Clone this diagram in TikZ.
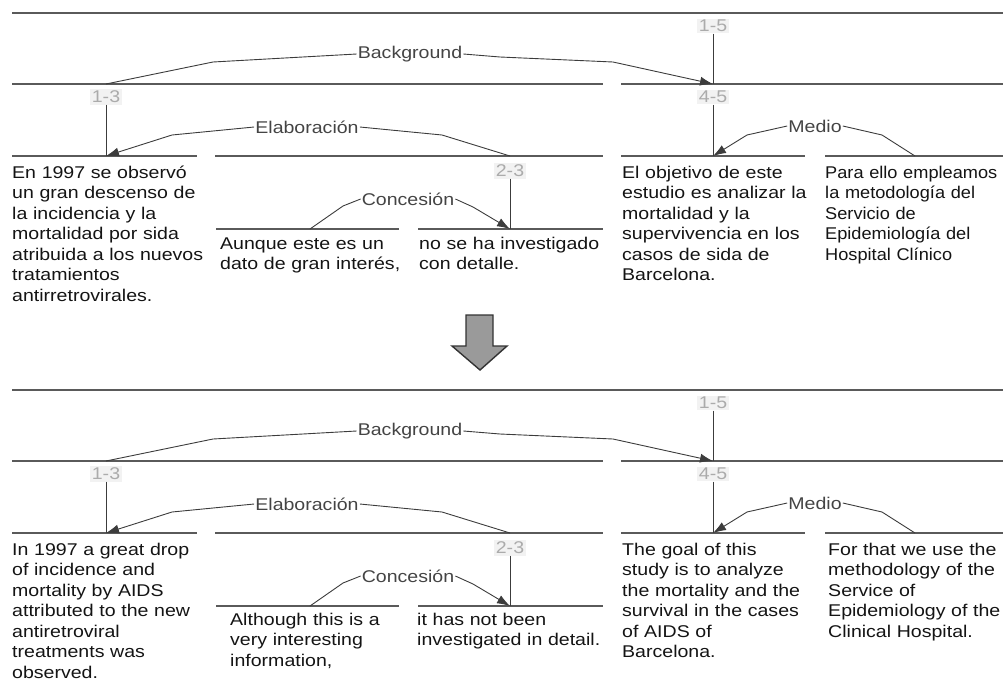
\documentclass[tikz,border=0pt]{standalone}
\usepackage{fontspec}
\setmainfont{Liberation Sans}[FakeStretch=1.15]
\newfontfamily\narrowfont{Liberation Sans}[FakeStretch=1.07]
\usepackage{tikz}
\usetikzlibrary{arrows.meta}

\definecolor{segcol}{HTML}{5A5A5A}
\definecolor{linecol}{HTML}{3C3C3C}
\definecolor{relcol}{HTML}{444444}
\definecolor{spancol}{HTML}{ABABAB}
\definecolor{spanbg}{HTML}{F2F2F2}
\definecolor{textcol}{HTML}{141414}
\definecolor{arrowfill}{HTML}{9A9A9A}

\tikzset{
  seg/.style={draw=segcol, line width=1.5pt},
  rel/.style={draw=linecol, line width=0.9pt},
  relarrow/.style={rel, -{Latex[length=13pt,width=9pt]}},
  reltext/.style={text=relcol, inner sep=1pt, font=\fontsize{17}{18}\selectfont},
  spantext/.style={text=spancol, fill=spanbg, inner sep=1.5pt, font=\fontsize{17}{18}\selectfont},
  edu/.style={anchor=base west, inner sep=0pt, text width=215pt, align=left,
    text=textcol, font=\fontsize{17}{20.5}\selectfont},
  bigarrow/.style={draw=black!80, fill=arrowfill, line width=1.4pt, line join=miter},
}

\begin{document}
\begin{tikzpicture}[x=1pt,y=-1pt]
  \useasboundingbox (0,0) rectangle (1003,680);

  % the same RST tree, once for the Spanish text and once for the English one
  \foreach \dy in {0,377} {
  \begin{scope}[yshift=-\dy pt]
    % Coordinates where spans meet the segment lines
    \coordinate (A15) at (713,84);  % 1-5 on level 2
    \coordinate (B13) at (106,84);  % top of 1-3
    \coordinate (A13) at (106,156); % 1-3 on level 3
    \coordinate (B23) at (510,156); % top of 2-3
    \coordinate (A45) at (713,156); % 4-5 on level 3
    \coordinate (B5)  at (915,156); % top of segment 5
    \coordinate (B2)  at (310,229); % top of segment 2
    \coordinate (A23) at (510,229); % 2-3 on level 4
    % bends of the relation lines
    \coordinate (BgL)  at (213,62);
    \coordinate (BgR1) at (500,57);
    \coordinate (BgR2) at (613,62);
    \coordinate (ElL)  at (172,135);
    \coordinate (ElR)  at (442,135);
    \coordinate (CoL)  at (343,206);
    \coordinate (CoR)  at (473,207);
    \coordinate (MeL)  at (747,135);
    \coordinate (MeR)  at (882,135);

    % segment lines
    \draw[seg] (12,13) -- (1003,13);
    \draw[seg] (12,84) -- (603,84);
    \draw[seg] (621,84) -- (1003,84);
    \draw[seg] (12,156) -- (197,156);
    \draw[seg] (215,156) -- (603,156);
    \draw[seg] (621,156) -- (805,156);
    \draw[seg] (825,156) -- (1003,156);
    \draw[seg] (216,229) -- (399,229);
    \draw[seg] (418,229) -- (603,229);

    % span labels
    \node[spantext] (s15) at (713,26) {1-5};
    \node[spantext] (s13) at (106,97) {1-3};
    \node[spantext] (s45) at (713,97) {4-5};
    \node[spantext] (s23) at (510,171) {2-3};
    \draw[rel] (s15) -- (A15);
    \draw[rel] (s13) -- (A13);
    \draw[rel] (s45) -- (A45);
    \draw[rel] (s23) -- (A23);

    % relations
    \node[reltext] (bg)    at (410,54)  {Background};
    \node[reltext] (elab)  at (307,127) {Elaboración};
    \node[reltext] (conc)  at (408,199) {Concesión};
    \node[reltext] (medio) at (815,126) {Medio};
    \draw[rel] (B13) -- (BgL) -- (bg.west);
    \draw[relarrow] (bg.east) -- (BgR1) -- (BgR2) -- (A15);
    \draw[rel] (B23) -- (ElR) -- (elab.east);
    \draw[relarrow] (elab.west) -- (ElL) -- (A13);
    \draw[rel] (B2) -- (CoL) -- (conc.west);
    \draw[relarrow] (conc.east) -- (CoR) -- (A23);
    \draw[rel] (B5) -- (MeR) -- (medio.east);
    \draw[relarrow] (medio.west) -- (MeL) -- (A45);
  \end{scope}
  }

  % Spanish segments
  \node[edu] (es1) at (12,178) {En 1997 se observó\\un gran descenso de\\la incidencia y la\\mortalidad por sida\\atribuida a los nuevos\\tratamientos\\antirretrovirales.};
  \node[edu] (es2) at (220,249) {Aunque este es un\\dato de gran interés,};
  \node[edu] (es3) at (419,249) {no se ha investigado\\con detalle.};
  \node[edu] (es4) at (622,178) {El objetivo de este\\estudio es analizar la\\mortalidad y la\\supervivencia en los\\casos de sida de\\Barcelona.};
  \node[edu, font=\narrowfont\fontsize{17}{20.5}\selectfont] (es5) at (825,178) {Para ello empleamos\\la metodología del\\Servicio de\\Epidemiología del\\Hospital Clínico};

  % translation arrow
  \draw[bigarrow] (466,315) -- (493,315) -- (493,346) -- (507,346) -- (480,370)
    -- (452,346) -- (466,346) -- cycle;

  % English segments
  \node[edu] (en1) at (12,555) {In 1997 a great drop\\of incidence and\\mortality by AIDS\\attributed to the new\\antiretroviral\\treatments was\\observed.};
  \node[edu] (en2) at (230,625) {Although this is a\\very interesting\\information,};
  \node[edu] (en3) at (417,625) {it has not been\\investigated in detail.};
  \node[edu] (en4) at (622,555) {The goal of this\\study is to analyze\\the mortality and the\\survival in the cases\\of AIDS of\\Barcelona.};
  \node[edu] (en5) at (828,555) {For that we use the\\methodology of the\\Service of\\Epidemiology of the\\Clinical Hospital.};
\end{tikzpicture}
\end{document}
